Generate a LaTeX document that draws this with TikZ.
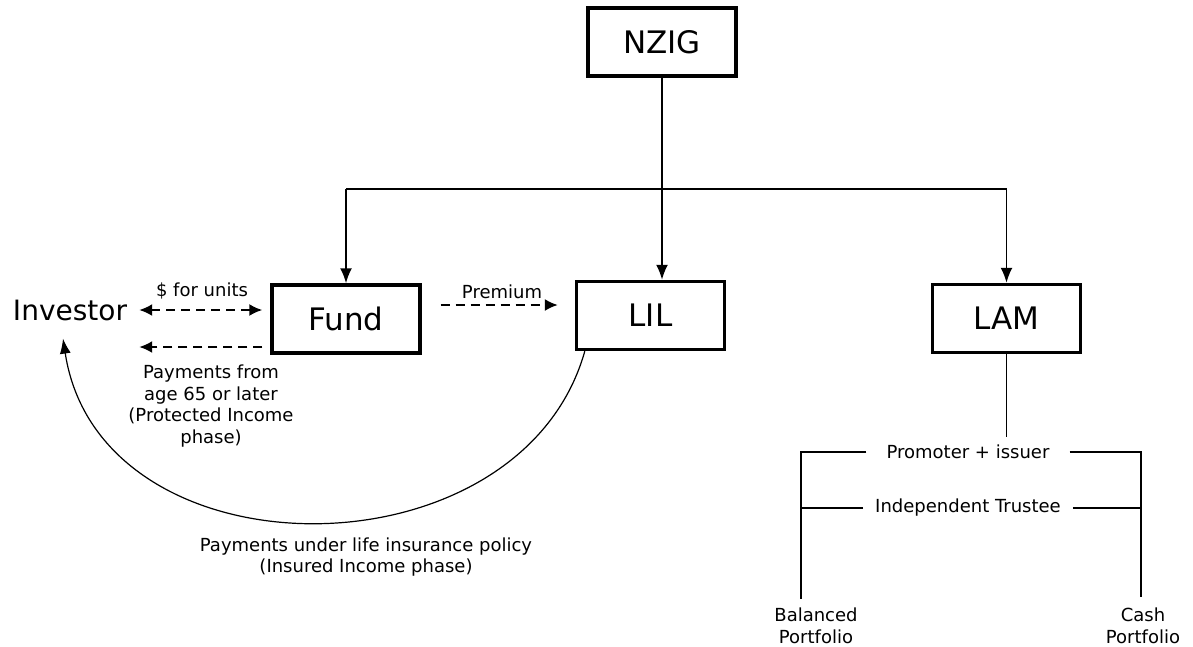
\documentclass[tikz,border=0pt]{standalone}
\usepackage{fontspec}
\setmainfont{DejaVu Sans}
\usetikzlibrary{arrows.meta, positioning}

\begin{document}
\begin{tikzpicture}[x=1pt, y=-1pt]
    \tikzstyle{entity} = [rectangle, minimum width=148pt, minimum height=68pt, text centered, draw=black, line width=3.4pt, font=\fontsize{31}{37}\selectfont]
    \tikzstyle{party} = [inner sep=2pt, font=\fontsize{28}{34}\selectfont]
    \tikzstyle{note} = [inner sep=2pt, align=center, font=\fontsize{18}{21.5}\selectfont]
    \tikzstyle{link} = [line width=1.9pt]
    \tikzstyle{arrow} = [line width=1.9pt, -{Latex[length=15pt, width=12pt]}]
    \tikzstyle{flow} = [line width=2pt, dash pattern=on 9pt off 6pt, -{Latex[length=13pt, width=12pt]}]
    \tikzstyle{twoway} = [line width=2pt, dash pattern=on 9pt off 6pt, {Latex[length=13pt, width=12pt]}-{Latex[length=13pt, width=12pt]}]
    \tikzstyle{payout} = [line width=1.2pt, -{Latex[length=15pt, width=11pt]}]

    \useasboundingbox (0,0) rectangle (1193,646);

    \node (nzig) [entity] at (662,42) {NZIG};
    \node (fund) [entity] at (346,319) {Fund};
    \node (lil) [entity] at (650.5,315.5) {LIL};
    \node (lam) [entity] at (1006.5,318.5) {LAM};
    \node (investor) [party] at (70,310) {Investor};

    \node (units) [note] at (202,291) {\$ for units};
    \node (premium) [note] at (502,292) {Premium};
    \node (payfrom) [note] at (211,406) {Payments from\\age 65 or later\\(Protected Income\\phase)};
    \node (policy) [note] at (366,557) {Payments under life insurance policy\\(Insured Income phase)};

    \node (promoter) [note, inner xsep=20pt] at (968,452) {Promoter + issuer};
    \node (trustee) [note, inner xsep=12pt] at (968,508) {Independent Trustee};
    \node (balanced) [note] at (816,626) {Balanced\\Portfolio};
    \node (cash) [note] at (1143,626) {Cash\\Portfolio};

    \coordinate (branch) at (662,189);
    \coordinate (balline) at ([xshift=-15pt]balanced.north);
    \coordinate (cashline) at ([xshift=-2pt]cash.north);
    \coordinate (paylow) at ([yshift=-28pt]fund.west);
    \coordinate (premout) at ([yshift=14pt]fund.east);

    % ownership
    \draw [arrow] (nzig.south) -- (nzig.south |- lil.north);
    \draw [link] (branch -| fund.north) -- (branch -| lam.north);
    \draw [arrow] (branch -| fund.north) -- (fund.north);
    \draw [arrow] (branch -| lam.north) -- (lam.north);

    % money flows
    \draw [twoway, shorten <=10pt, shorten >=8pt] (investor.east) -- (investor.east -| fund.west);
    \draw [flow, shorten <=8pt, shorten >=10pt] (paylow) -- (paylow -| investor.east);
    \draw [flow, shorten <=19pt, shorten >=17pt] (premout) -- (premout -| lil.west);
    \draw [payout] ([xshift=10pt]lil.south west) .. controls (520,581) and (100,581) .. ([xshift=-7pt,yshift=-16pt]investor.south);

    % LAM structure
    \draw [link, shorten >=6pt] (lam.south) -- (lam.south |- promoter.north);
    \draw [link, shorten >=7pt] (promoter.west) -| (balline);
    \draw [link, shorten >=9pt] (promoter.east) -| (cashline);
    \draw [link] (trustee.west) -- (trustee.west -| balline);
    \draw [link] (trustee.east) -- (trustee.east -| cashline);
\end{tikzpicture}
\end{document}
